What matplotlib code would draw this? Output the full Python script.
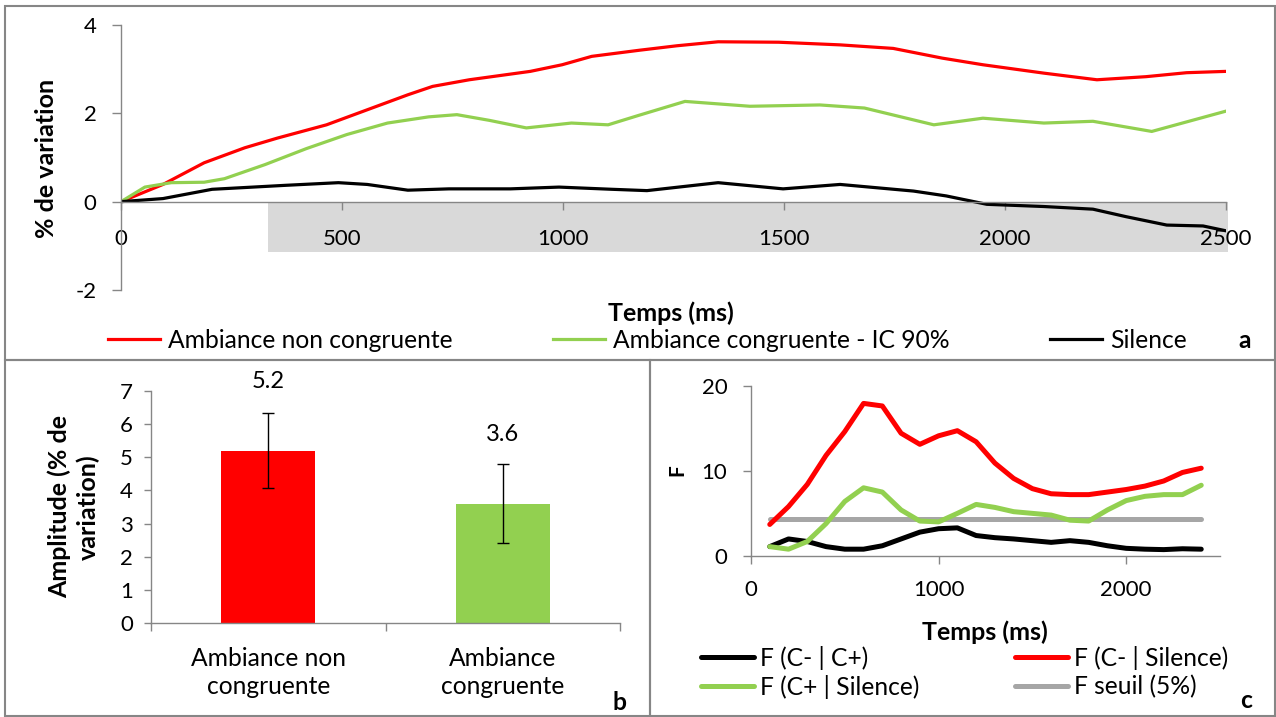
import matplotlib.pyplot as plt
from matplotlib.patches import Rectangle
from matplotlib.ticker import FixedLocator

plt.rcParams['font.family'] = ['Lato', 'DejaVu Sans']
plt.rcParams['axes.unicode_minus'] = False

W, H = 1276, 717
RED = '#FF0000'
GREEN = '#92D050'
AXIS = '#868686'
THR_GRAY = '#A6A6A6'
TXT = 17.7   # texte
NUM = 16     # graduations

# (a) % de variation au cours du temps
t_red = [0, 95, 188, 280, 354, 465, 557, 649, 705, 788, 926, 998, 1065, 1174, 1258,
         1351, 1488, 1627, 1747, 1858, 1950, 2088, 2208, 2319, 2411, 2500]
v_red = [0, 0.39, 0.88, 1.22, 1.44, 1.74, 2.08, 2.42, 2.61, 2.76, 2.95, 3.10, 3.29, 3.43,
         3.53, 3.62, 3.61, 3.55, 3.47, 3.25, 3.10, 2.91, 2.76, 2.83, 2.92, 2.95]
t_green = [0, 54, 114, 188, 234, 326, 419, 511, 603, 696, 760, 834, 917, 1019, 1102,
           1170, 1276, 1423, 1581, 1682, 1839, 1950, 2088, 2199, 2332, 2500]
v_green = [0, 0.33, 0.43, 0.44, 0.52, 0.84, 1.20, 1.52, 1.78, 1.92, 1.97, 1.84, 1.67, 1.78,
           1.74, 1.95, 2.27, 2.16, 2.19, 2.12, 1.74, 1.89, 1.78, 1.82, 1.59, 2.05]
t_black = [0, 95, 206, 280, 372, 492, 557, 649, 742, 881, 991, 1111, 1190, 1351, 1498,
           1627, 1793, 1867, 1959, 2088, 2199, 2274, 2366, 2448, 2500]
v_black = [0, 0.07, 0.28, 0.32, 0.37, 0.43, 0.39, 0.26, 0.29, 0.29, 0.33, 0.28, 0.25, 0.43,
           0.29, 0.39, 0.24, 0.13, -0.06, -0.11, -0.17, -0.34, -0.53, -0.55, -0.66]

# (b) amplitude moyenne
cond_labels = ['Ambiance non\ncongruente', 'Ambiance\ncongruente']
amplitude = [5.2, 3.6]
amp_err = [1.13, 1.19]

# (c) statistiques F
t_f = [100, 200, 300, 400, 500, 600, 700, 800, 900, 1000, 1100, 1200,
       1300, 1400, 1500, 1600, 1700, 1800, 1900, 2000, 2100, 2200, 2300, 2400]
f_cm_cp = [1.1, 2.0, 1.7, 1.1, 0.8, 0.8, 1.2, 2.0, 2.8, 3.2, 3.3, 2.4,
           2.15, 2.0, 1.8, 1.6, 1.8, 1.6, 1.2, 0.9, 0.8, 0.75, 0.85, 0.8]
f_cm_sil = [3.7, 5.8, 8.4, 11.8, 14.6, 17.9, 17.6, 14.4, 13.1, 14.1, 14.7, 13.4,
            10.9, 9.1, 7.9, 7.3, 7.2, 7.2, 7.5, 7.8, 8.2, 8.8, 9.8, 10.3]
f_cp_sil = [1.1, 0.8, 1.7, 3.8, 6.4, 8.0, 7.5, 5.4, 4.1, 4.0, 5.0, 6.05,
            5.7, 5.2, 5.0, 4.8, 4.2, 4.1, 5.4, 6.5, 7.0, 7.2, 7.2, 8.3]
f_seuil = 4.3


def px_rect(x0, y0, x1, y1):
    """pixel box (top-left origin) -> figure fraction rect"""
    return [x0 / W, 1 - y1 / H, (x1 - x0) / W, (y1 - y0) / H]


def px(x, y):
    return x / W, 1 - y / H


def style_axes(ax):
    for s in ['top', 'right']:
        ax.spines[s].set_visible(False)
    for s in ['left', 'bottom']:
        ax.spines[s].set_color(AXIS)
        ax.spines[s].set_linewidth(1.0)
    ax.tick_params(colors=AXIS, labelcolor='black', labelsize=NUM, width=1.0)


fig = plt.figure(figsize=(W / 100, H / 100), dpi=100)

# cadres des trois panneaux
for box in [(5, 6, 1275, 360), (5, 360, 650, 716), (650, 360, 1275, 716)]:
    x0, y0, x1, y1 = box
    fig.add_artist(Rectangle(px(x0, y1), (x1 - x0) / W, (y1 - y0) / H,
                             transform=fig.transFigure, fill=False,
                             edgecolor=AXIS, linewidth=1.5))

# ---- a
ax1 = fig.add_axes(px_rect(121, 25, 1226, 290))
style_axes(ax1)
ax1.add_patch(Rectangle((332, -1.15), 2173, 1.15, facecolor='#D9D9D9',
                        edgecolor='none', zorder=0, clip_on=False))
ax1.plot(t_red, v_red, color=RED, lw=2.3, label='Ambiance non congruente')
ax1.plot(t_green, v_green, color=GREEN, lw=2.3, label='Ambiance congruente - IC 90%')
ax1.plot(t_black, v_black, color='black', lw=2.3, label='Silence')
ax1.set_xlim(0, 2500)
ax1.set_ylim(-2, 4)
ax1.set_yticks([-2, 0, 2, 4])
ax1.set_xticks([0, 500, 1000, 1500, 2000, 2500])
ax1.spines['bottom'].set_position(('data', 0))
ax1.tick_params(axis='y', length=6.5, pad=11)
ax1.tick_params(axis='x', length=6, pad=14)
fig.text(*px(47, 158), '% de variation', rotation=90, fontsize=18, fontweight='bold',
         ha='center', va='center')
fig.text(*px(671, 313), 'Temps (ms)', fontsize=18, fontweight='bold', ha='center', va='center')
fig.legend(handles=ax1.get_lines(), loc='center left', bbox_to_anchor=px(108, 340),
           ncol=3, frameon=False, fontsize=TXT, handlelength=2.1, handletextpad=0.33,
           columnspacing=4.1, borderpad=0, borderaxespad=0)
fig.text(*px(1245, 340), 'a', fontsize=TXT, fontweight='bold', ha='center', va='center')

# ---- b
ax2 = fig.add_axes(px_rect(151, 391, 620, 623))
style_axes(ax2)
xpos = [0, 1]
ax2.bar(xpos, amplitude, width=0.4, color=[RED, GREEN], zorder=2)
ax2.errorbar(xpos, amplitude, yerr=amp_err, fmt='none', ecolor='black', elinewidth=1.0,
             capsize=4.5, capthick=1.0, zorder=3)
for x, v in zip(xpos, amplitude):
    ax2.annotate(f'{v:.1f}', (x, v), xytext=(0, 50), textcoords='offset points',
                 ha='center', va='center', fontsize=NUM + 1)
ax2.set_xlim(-0.5, 1.5)
ax2.set_ylim(0, 7)
ax2.set_yticks(range(8))
ax2.set_xticks(xpos)
ax2.set_xticklabels(cond_labels, linespacing=1.3, fontsize=TXT)
ax2.xaxis.set_minor_locator(FixedLocator([-0.5, 0.5, 1.5]))
ax2.tick_params(axis='x', which='major', length=0, pad=17)
ax2.tick_params(axis='x', which='minor', length=6, color=AXIS, width=1.0)
ax2.tick_params(axis='y', length=5, pad=8)
fig.text(*px(74, 507), 'Amplitude (% de\nvariation)', rotation=90, fontsize=18,
         fontweight='bold', ha='center', va='center', linespacing=1.25)
fig.text(*px(620, 702), 'b', fontsize=TXT, fontweight='bold', ha='center', va='center')

# ---- c
ax3 = fig.add_axes(px_rect(751, 385.5, 1220, 556))
style_axes(ax3)
l1, = ax3.plot(t_f, f_cm_cp, color='black', lw=3.6, label='F (C- | C+)')
l2, = ax3.plot(t_f, f_cm_sil, color=RED, lw=3.6, label='F (C- | Silence)')
l3, = ax3.plot(t_f, f_cp_sil, color=GREEN, lw=3.6, label='F (C+ | Silence)')
l4, = ax3.plot([t_f[0], t_f[-1]], [f_seuil, f_seuil], color=THR_GRAY, lw=3.6,
               label='F seuil (5%)', zorder=1.5)
for ln in (l1, l2, l3, l4):
    ln.set_solid_capstyle('round')
    ln.set_solid_joinstyle('round')
ax3.set_xlim(0, 2500)
ax3.set_ylim(0, 20)
ax3.set_xticks([0, 1000, 2000])
ax3.set_yticks([0, 10, 20])
ax3.tick_params(axis='x', length=6, pad=11)
ax3.tick_params(axis='y', length=6, pad=11)
fig.text(*px(677, 470), 'F', rotation=90, fontsize=15, fontweight='bold',
         ha='center', va='center')
fig.text(*px(985, 632), 'Temps (ms)', fontsize=18, fontweight='bold', ha='center', va='center')
fig.legend(handles=[l1, l3, l2, l4], loc='upper left', bbox_to_anchor=px(701, 646),
           ncol=2, frameon=False, fontsize=TXT, handlelength=2.15, handletextpad=0.25,
           columnspacing=3.9, labelspacing=0.2, borderpad=0, borderaxespad=0)
fig.text(*px(1246, 700), 'c', fontsize=TXT, fontweight='bold', ha='center', va='center')

fig.savefig('out.png', dpi=100, facecolor='white')
